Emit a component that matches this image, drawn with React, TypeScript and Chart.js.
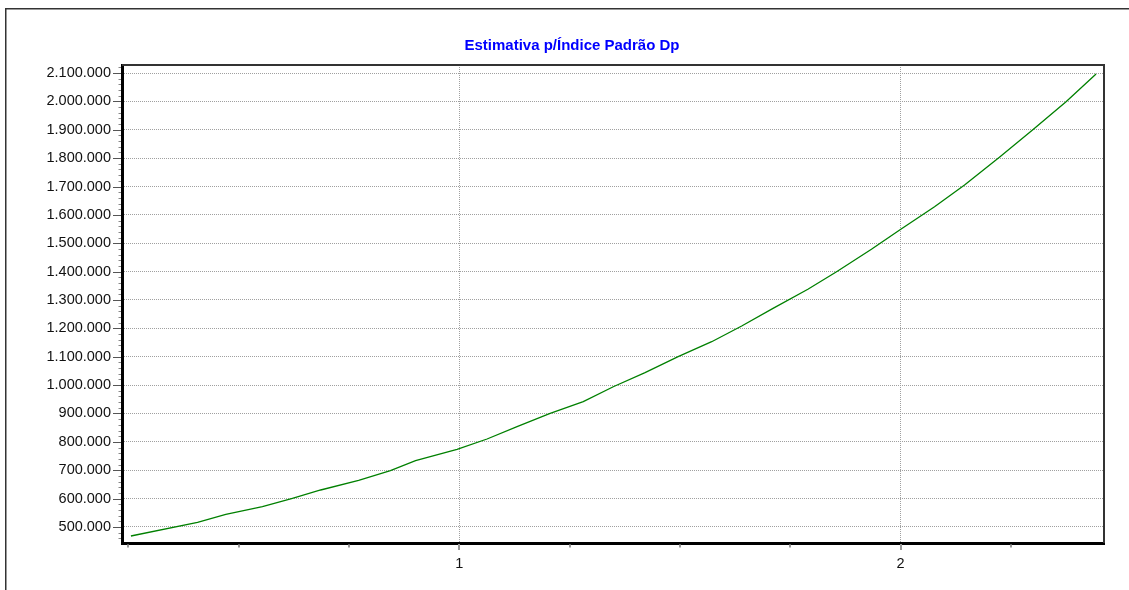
import { useEffect, useRef } from "react";
import { Chart, registerables } from "chart.js";

Chart.register(...registerables);

const TITLE = "Estimativa p/Índice Padrão Dp";

const X_VALUES = [
  0.256, 0.407, 0.471, 0.554, 0.622, 0.686, 0.772, 0.844, 0.901, 0.995,
  1.063, 1.131, 1.206, 1.281, 1.349, 1.421, 1.496, 1.572, 1.640, 1.711,
  1.790, 1.855, 1.934, 1.998, 2.077, 2.145, 2.224, 2.299, 2.375, 2.443,
];

const Y_VALUES = [
  468300, 516600, 544800, 571500, 601100, 630400, 664600, 698400, 733700, 773800,
  810100, 853500, 900700, 941600, 994400, 1043800, 1100200, 1153000, 1208400, 1270700,
  1337700, 1399700, 1478700, 1546700, 1628800, 1705300, 1802900, 1899100, 1998800, 2096500,
];

const Y_TICKS = [
  500000, 600000, 700000, 800000, 900000, 1000000, 1100000, 1200000, 1300000,
  1400000, 1500000, 1600000, 1700000, 1800000, 1900000, 2000000, 2100000,
];
const X_TICKS = [1, 2];
const X_MINOR_TICKS = [0.25, 0.5, 0.75, 1.25, 1.5, 1.75, 2.25];

const fmt = (v: number) =>
  String(Math.round(v)).replace(/\B(?=(\d{3})+(?!\d))/g, ".");

const decor = {
  id: "decor",
  beforeDraw(chart: any) {
    const { ctx } = chart;
    ctx.save();
    ctx.fillStyle = "#ffffff";
    ctx.fillRect(0, 0, chart.width, chart.height);
    ctx.strokeStyle = "#333333";
    ctx.lineWidth = 1.5;
    ctx.strokeRect(5.75, 8.75, chart.width + 40, chart.height + 40);
    ctx.restore();
  },
  afterDraw(chart: any) {
    const { ctx, chartArea: a, scales } = chart;
    const x = scales.x;
    const y = scales.y;
    ctx.save();
    ctx.strokeStyle = "#333333";
    ctx.lineWidth = 2;
    ctx.beginPath();
    ctx.moveTo(a.left, a.top);
    ctx.lineTo(a.right, a.top);
    ctx.lineTo(a.right, a.bottom);
    ctx.stroke();
    ctx.strokeStyle = "#888888";
    ctx.lineWidth = 1;
    for (let v = 460000; v <= 2120000; v += 20000) {
      if (v % 100000 === 0) continue;
      const py = Math.round(y.getPixelForValue(v)) + 0.5;
      if (py < a.top || py > a.bottom) continue;
      ctx.beginPath();
      ctx.moveTo(a.left - 3.5, py);
      ctx.lineTo(a.left - 1, py);
      ctx.stroke();
    }
    ctx.strokeStyle = "#555555";
    for (const v of Y_TICKS) {
      const py = Math.round(y.getPixelForValue(v)) + 0.5;
      ctx.beginPath();
      ctx.moveTo(a.left - 9, py);
      ctx.lineTo(a.left - 1, py);
      ctx.stroke();
    }
    ctx.strokeStyle = "#999999";
    ctx.lineWidth = 2;
    for (const v of X_TICKS) {
      const px = Math.round(x.getPixelForValue(v));
      ctx.beginPath();
      ctx.moveTo(px, a.bottom + 1);
      ctx.lineTo(px, a.bottom + 7);
      ctx.stroke();
    }
    ctx.strokeStyle = "#777777";
    ctx.lineWidth = 1.5;
    for (const v of X_MINOR_TICKS) {
      const px = Math.round(x.getPixelForValue(v));
      ctx.beginPath();
      ctx.moveTo(px, a.bottom + 1);
      ctx.lineTo(px, a.bottom + 4.5);
      ctx.stroke();
    }
    ctx.restore();
  },
};

export default function App() {
  const ref = useRef<HTMLCanvasElement | null>(null);

  useEffect(() => {
    if (!ref.current) return;
    const chart = new Chart(ref.current, {
      type: "line",
      data: {
        datasets: [
          {
            data: X_VALUES.map((xv, i) => ({ x: xv, y: Y_VALUES[i] })),
            borderColor: "#008000",
            borderWidth: 1.3,
            pointRadius: 0,
            tension: 0,
            fill: false,
          },
        ],
      },
      options: {
        animation: false,
        responsive: false,
        devicePixelRatio: 1,
        layout: { padding: { left: 40, right: 25, top: 30, bottom: 0 } },
        plugins: {
          legend: { display: false },
          tooltip: { enabled: false },
          title: {
            display: true,
            text: TITLE,
            color: "#0000ff",
            font: { family: "'Liberation Sans', Arial, sans-serif", size: 15, weight: "bold" },
            padding: { top: 7, bottom: 10 },
          },
        },
        scales: {
          x: {
            type: "linear",
            min: 0.2358,
            max: 2.461,
            afterBuildTicks: (scale: any) => {
              scale.ticks = X_TICKS.map((v) => ({ value: v }));
            },
            afterFit: (scale: any) => {
              scale.height = 47;
            },
            ticks: {
              autoSkip: false,
              maxRotation: 0,
              padding: 12,
              color: "#111111",
              font: { family: "'Liberation Sans', Arial, sans-serif", size: 14.5 },
              callback: (v: any) => String(v),
            },
            grid: { color: "#a0a0a0", lineWidth: 1, drawTicks: false },
            border: { display: true, color: "#000000", width: 3, dash: [1, 1] },
          },
          y: {
            type: "linear",
            min: 443612,
            max: 2128194,
            afterBuildTicks: (scale: any) => {
              scale.ticks = Y_TICKS.map((v) => ({ value: v }));
            },
            afterFit: (scale: any) => {
              scale.width = 82;
            },
            ticks: {
              autoSkip: false,
              padding: 11,
              color: "#111111",
              font: { family: "'Liberation Sans', Arial, sans-serif", size: 14.5 },
              callback: (v: any) => fmt(Number(v)),
            },
            grid: { color: "#a0a0a0", lineWidth: 1, drawTicks: false },
            border: { display: true, color: "#000000", width: 3, dash: [1, 1] },
          },
        },
      },
      plugins: [decor],
    } as any);
    return () => chart.destroy();
  }, []);

  return (
    <div style={{ position: "fixed", left: 0, top: 0, width: 1129, height: 590, overflow: "hidden", background: "#fff" }}>
      <canvas ref={ref} width={1129} height={590} style={{ display: "block" }} />
    </div>
  );
}
